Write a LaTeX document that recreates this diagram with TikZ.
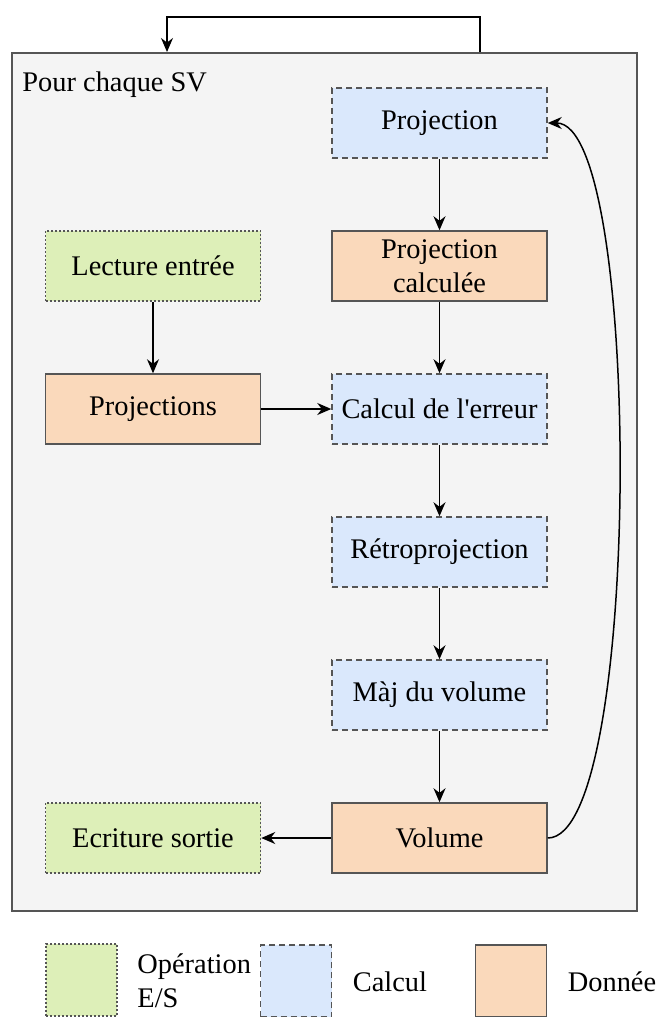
\documentclass[tikz,border=0pt]{standalone}
\usepackage{fontspec}
\setmainfont{Liberation Serif}[Ligatures=TeXOff]
\usepackage{tikz}
\usetikzlibrary{arrows.meta,positioning}
\definecolor{iogreen}{HTML}{DDEFB8}
\definecolor{calcblue}{HTML}{DAE8FC}
\definecolor{dataorange}{HTML}{FAD9BB}
\definecolor{framegray}{HTML}{F4F4F4}
\definecolor{edgegray}{HTML}{555555}
\tikzset{
  base/.style={
    rectangle,
    draw=edgegray,
    line width=0.75pt,
    minimum width=107.5pt,
    minimum height=35pt,
    align=center,
    inner sep=2pt
  },
  io/.style={base, fill=iogreen, dash pattern=on 1pt off 1pt},
  calc/.style={base, fill=calcblue, dash pattern=on 3pt off 2pt},
  data/.style={base, fill=dataorange},
  legend/.style={minimum width=35.5pt, minimum height=36pt},
  arrow/.style={-{Stealth[length=7pt,width=6pt]}, line width=0.75pt, draw=black}
}
\begin{document}
\begin{tikzpicture}[x=0.5pt, y=-0.5pt, node distance=35.75pt and 35pt,
  font=\fontsize{14.2}{17}\selectfont]
\useasboundingbox (0,0) rectangle (658,1017);

% frame of the loop
\node[draw=edgegray, fill=framegray, line width=0.75pt, minimum width=312.5pt,
  minimum height=429pt, anchor=north west] (frame) at (11,52) {};
\node[anchor=base west, inner sep=0pt] (title) at (22,91) {Pour chaque SV};

\node[calc] (proj) at (439.5,123) {Projection};
\node[data, below=of proj] (projcalc) {Projection\\calculée};
\node[calc, below=of projcalc] (erreur) {Calcul de l'erreur};
\node[data, left=of erreur] (projs) {Projections};
\node[io, above=of projs] (lecture) {Lecture entrée};
\node[calc, below=of erreur] (retro) {Rétroprojection};
\node[calc, below=of retro] (maj) {Màj du volume};
\node[data, below=of maj] (volume) {Volume};
\node[io, left=of volume] (ecriture) {Ecriture sortie};

\draw[arrow] (proj) -- (projcalc);
\draw[arrow] (projcalc) -- (erreur);
\draw[arrow] (lecture) -- (projs);
\draw[arrow] (projs) -- (erreur);
\draw[arrow] (erreur) -- (retro);
\draw[arrow] (retro) -- (maj);
\draw[arrow] (maj) -- (volume);
\draw[arrow] (volume) -- (ecriture);
\draw[arrow] (volume.east) .. controls +(95,0) and +(95,0) .. (proj.east);

% loop back over every SV
\coordinate (loopR) at (480,17);
\coordinate (loopL) at (167,17);
\draw[arrow] (loopR |- frame.north) -- (loopR) -- (loopL) -- (loopL |- frame.north);

% legend
\node[io, legend] (legio) at (81.5,980) {};
\node[anchor=west, align=left, inner sep=0pt] (legiotext) at (137,981) {Opération\\E/S};
\node[calc, legend] (legcalc) at (296,981) {};
\node (legcalctext) at (390,982) {Calcul};
\node[data, legend] (legdata) at (511,981) {};
\node (legdatatext) at (612,982) {Donnée};

\end{tikzpicture}
\end{document}
